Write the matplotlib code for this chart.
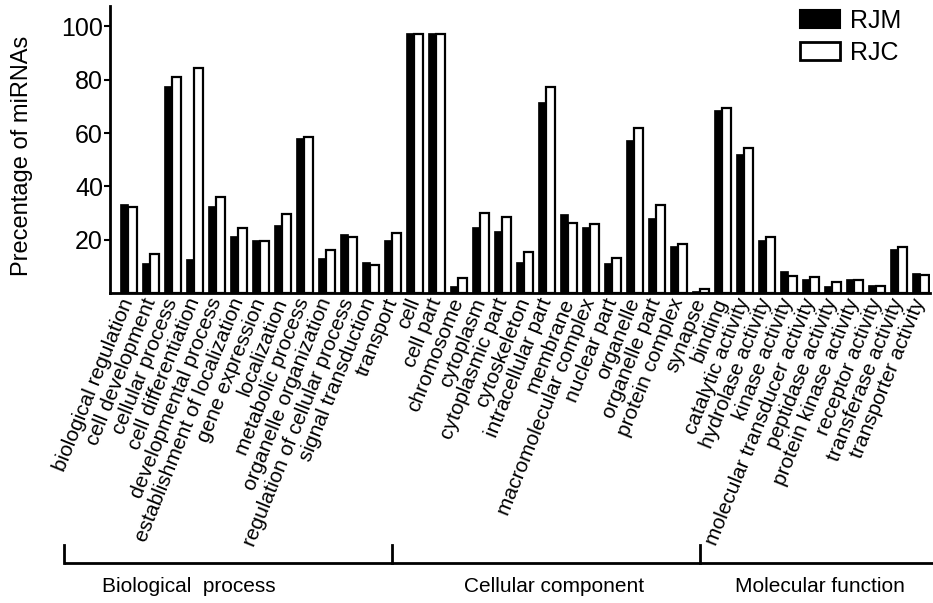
import numpy as np
import matplotlib
matplotlib.use('Agg')
import matplotlib.pyplot as plt
from matplotlib.patches import Patch
from matplotlib.lines import Line2D
import matplotlib.transforms as mtransforms

plt.rcParams['font.family'] = ['Liberation Sans', 'DejaVu Sans']

# GO categories, grouped
bio_terms = ['biological regulation', 'cell development', 'cellular process',
             'cell differentiation', 'developmental process',
             'establishment of localization', 'gene expression', 'localization',
             'metabolic process', 'organelle organization',
             'regulation of cellular process', 'signal transduction', 'transport']
cc_terms = ['cell', 'cell part', 'chromosome', 'cytoplasm', 'cytoplasmic part',
            'cytoskeleton', 'intracellular part', 'membrane',
            'macromolecular complex', 'nuclear part', 'organelle',
            'organelle part', 'protein complex', 'synapse']
mf_terms = ['binding', 'catalytic activity', 'hydrolase activity',
            'kinase activity', 'molecular transducer activity',
            'peptidase activity', 'protein kinase activity', 'receptor activity',
            'transferase activity', 'transporter activity']

# percentages
rjm_bio = [33.4, 11.2, 77.5, 12.9, 32.6, 21.4, 20.1, 25.7, 58.2, 13.4, 22.1, 11.8, 19.9]
rjc_bio = [32.5, 14.7, 81.0, 84.3, 36.1, 24.4, 19.7, 29.7, 58.5, 16.2, 20.9, 10.7, 22.6]
rjm_cc = [97.4, 97.4, 2.7, 24.9, 23.5, 11.8, 71.6, 29.6, 24.9, 11.2, 57.5, 28.2, 17.7, 1.0]
rjc_cc = [97.0, 97.0, 5.8, 29.9, 28.4, 15.3, 77.2, 26.5, 25.9, 13.4, 61.8, 33.1, 18.5, 1.6]
rjm_mf = [68.7, 52.2, 20.1, 8.2, 5.3, 2.7, 5.2, 3.1, 16.7, 7.5]
rjc_mf = [69.3, 54.4, 20.9, 6.6, 6.0, 4.1, 4.8, 2.9, 17.5, 7.0]

group_names = ['Biological  process', 'Cellular component', 'Molecular function']

terms = bio_terms + cc_terms + mf_terms
rjm = np.array(rjm_bio + rjm_cc + rjm_mf)
rjc = np.array(rjc_bio + rjc_cc + rjc_mf)
x = np.arange(len(terms))

W, H = 933, 603
fig = plt.figure(figsize=(W / 100, H / 100), dpi=100)
ax = fig.add_axes([110 / W, 309.7 / H, 820 / W, 287.3 / H])

bw = 0.37
ax.bar(x - bw / 2, rjm, bw, color='black', edgecolor='black', linewidth=0.5, label='RJM')
ax.bar(x + bw / 2, rjc, bw, color='white', edgecolor='black', linewidth=1.6, label='RJC')

ax.set_xlim(-0.84, -0.84 + 820 / 22)
ax.set_ylim(0, 107.6)
ax.set_yticks([20, 40, 60, 80, 100])
ax.tick_params(axis='y', labelsize=18, length=4, width=1.5, pad=1, direction='out')
ax.set_xticks(x)
ax.set_xticklabels(terms, rotation=68, ha='right', va='center',
                   rotation_mode='anchor', fontsize=15)
ax.tick_params(axis='x', length=0, pad=4)

for s in ['top', 'right']:
    ax.spines[s].set_visible(False)
for s in ['left', 'bottom']:
    ax.spines[s].set_linewidth(2)

ax.set_ylabel('Precentage of miRNAs', fontsize=17)
ax.yaxis.set_label_coords(-0.094, 0.48)

leg = fig.legend(handles=[Patch(facecolor='black', edgecolor='black', linewidth=1.5),
                          Patch(facecolor='white', edgecolor='black', linewidth=2)],
                 labels=['RJM', 'RJC'], loc='upper left',
                 bbox_to_anchor=(800 / W, 1 - 9 / H), frameon=False, fontsize=18,
                 handlelength=1.6, handleheight=0.72, handletextpad=0.4,
                 labelspacing=0.3, borderpad=0, borderaxespad=0)

# group brackets below the labels
trans = mtransforms.blended_transform_factory(ax.transData, fig.transFigure)
y_line = 1 - 563 / H
y_top = 1 - 545 / H
n_bio, n_cc = len(bio_terms), len(cc_terms)
edges = [-2.95, n_bio - 1, n_bio + n_cc - 1]
fig.add_artist(Line2D([edges[0], 36.6], [y_line, y_line], transform=trans,
                      color='black', linewidth=2, solid_capstyle='butt'))
for e in edges:
    fig.add_artist(Line2D([e, e], [y_line, y_top], transform=trans,
                          color='black', linewidth=2))

label_x = [189, 554, 820]
for name, lx in zip(group_names, label_x):
    fig.text(lx / W, 1 - 586 / H, name, ha='center', va='center', fontsize=15,
             family=['Liberation Sans Narrow', 'Liberation Sans'])

fig.savefig('out.png', dpi=100)
